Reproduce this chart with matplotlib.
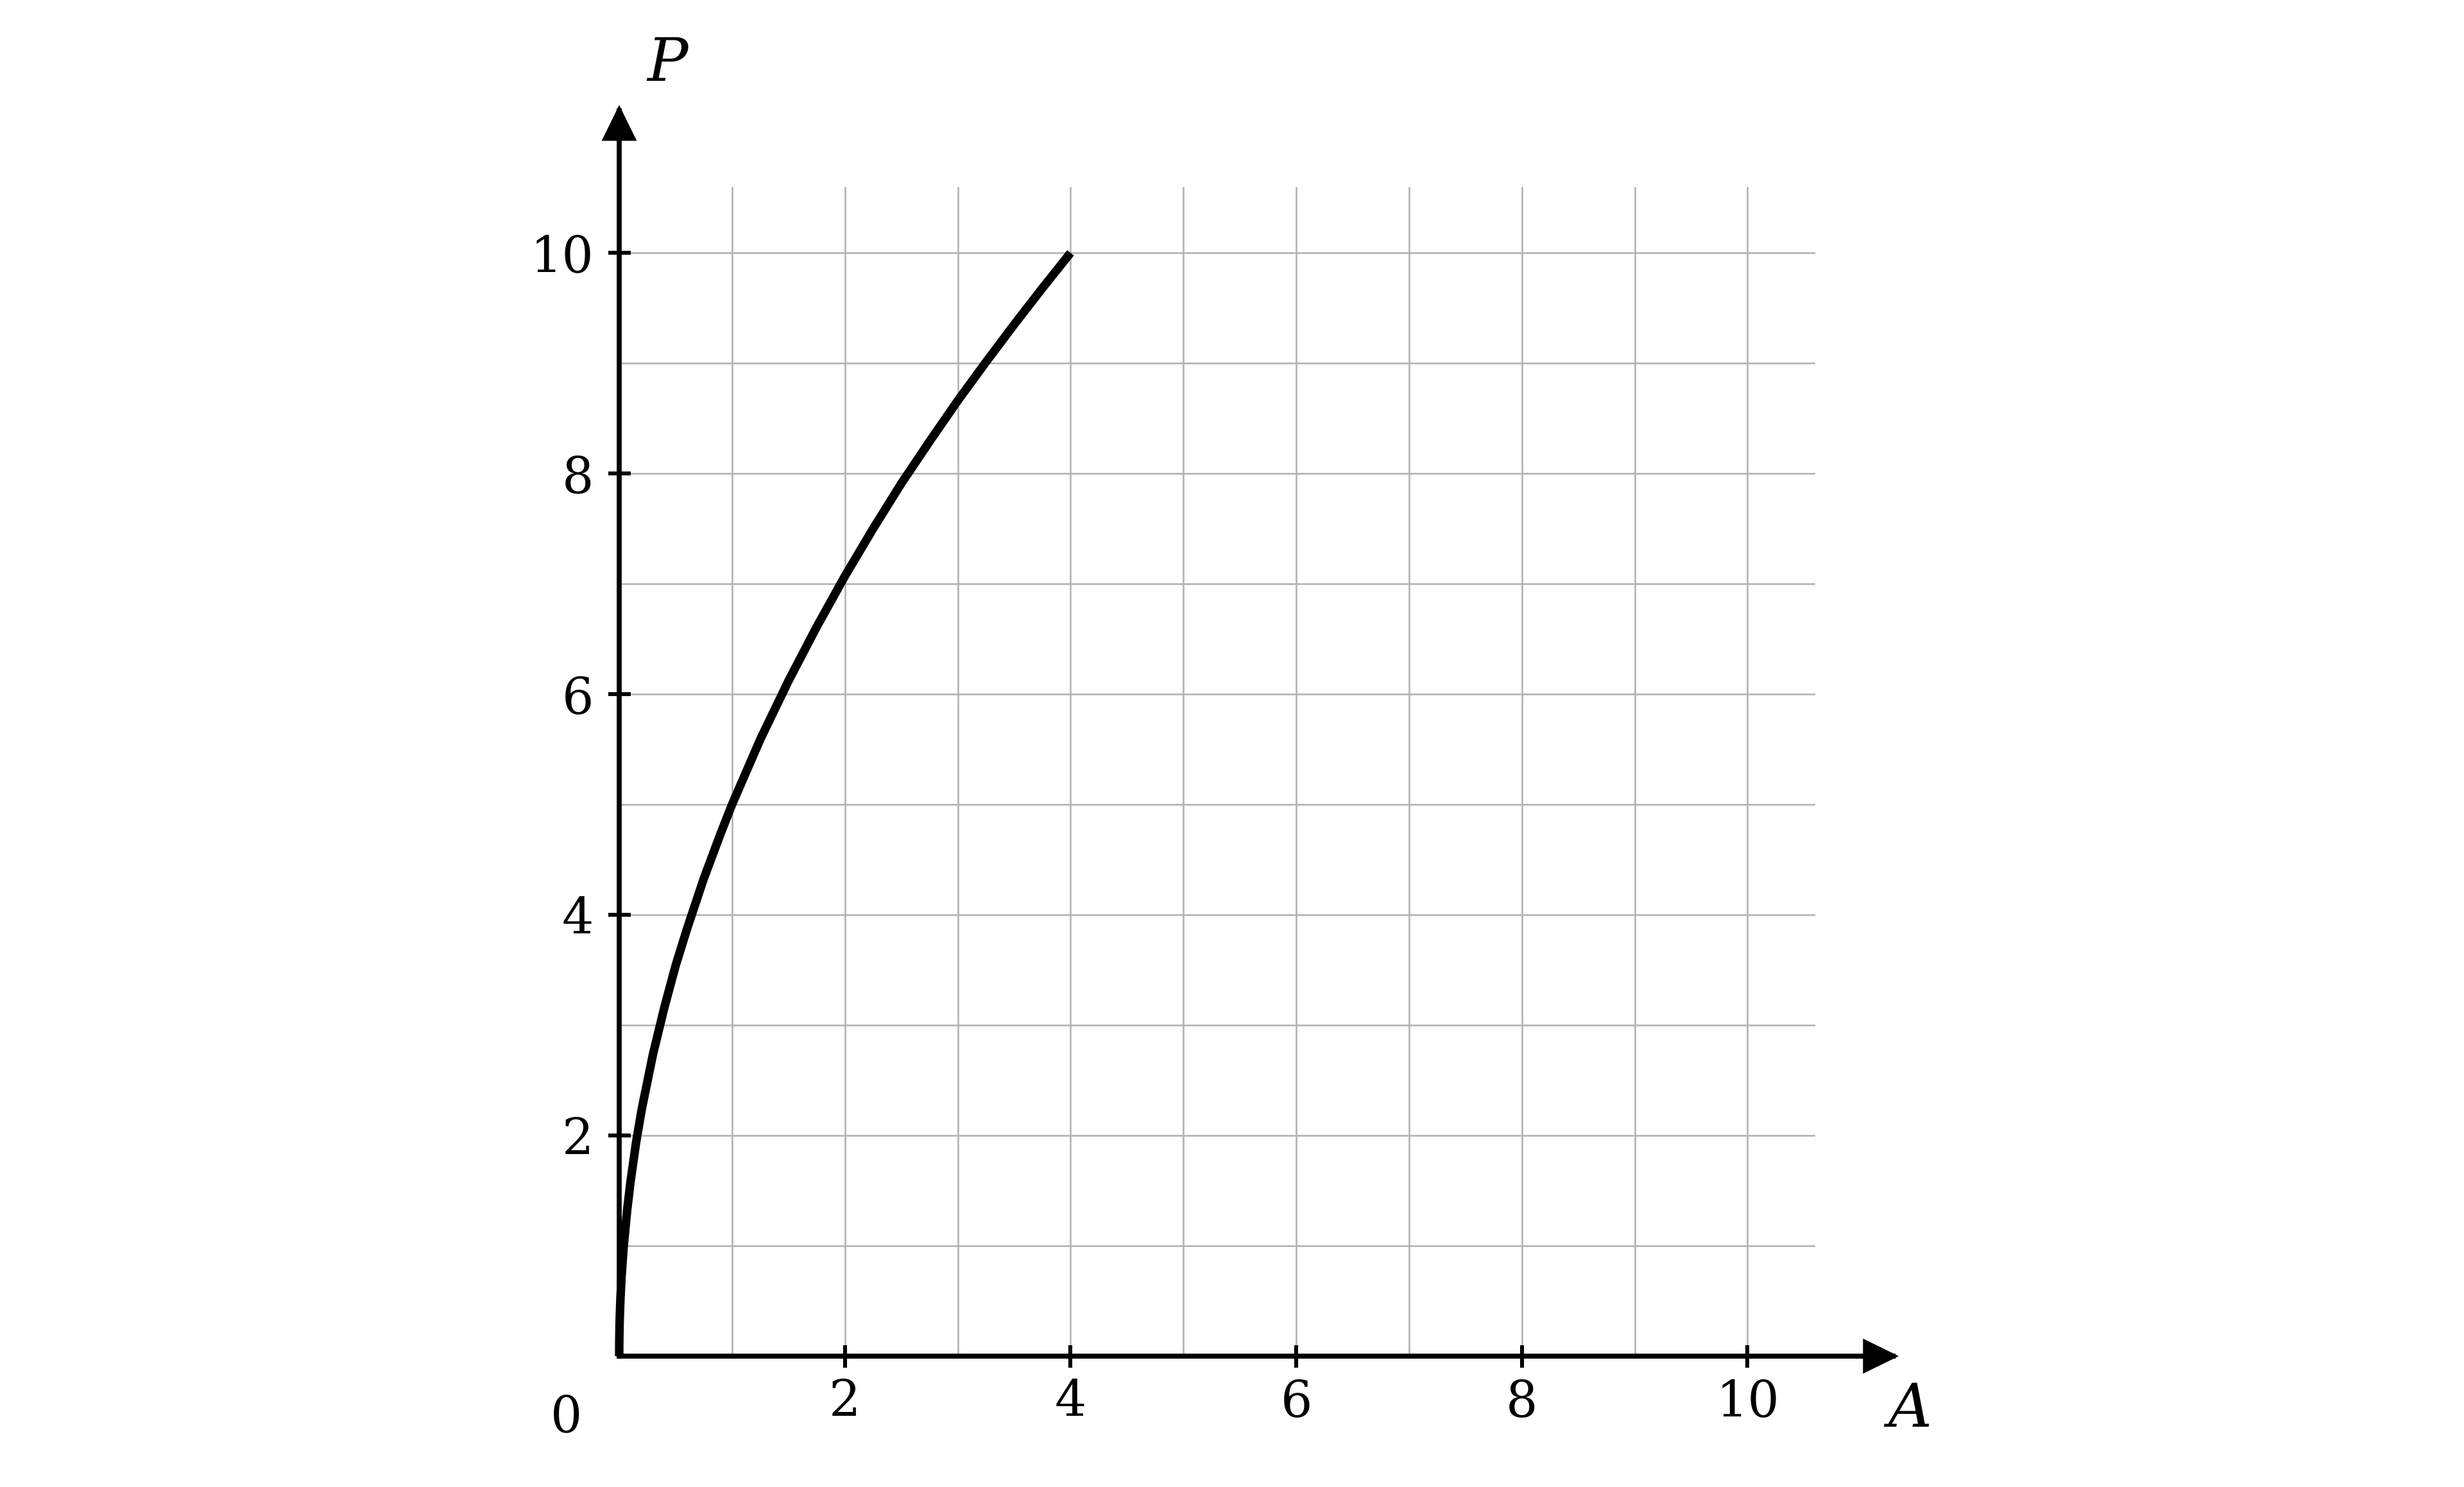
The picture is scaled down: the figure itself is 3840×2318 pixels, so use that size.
import matplotlib
matplotlib.use("Agg")
import matplotlib.pyplot as plt
from matplotlib.patches import FancyArrowPatch, ArrowStyle

# ---- data ----
A_values = [0, 0.001, 0.004, 0.01, 0.02, 0.04, 0.07, 0.1, 0.15, 0.2, 0.3, 0.4, 0.5,
            0.6, 0.75, 0.9, 1.0, 1.25, 1.5, 1.75, 2.0, 2.25, 2.5, 2.75, 3.0, 3.25,
            3.5, 3.75, 4.0]
P_values = [0, 0.16, 0.32, 0.50, 0.71, 1.00, 1.32, 1.58, 1.94, 2.24, 2.74, 3.16, 3.54,
            3.87, 4.33, 4.74, 5.00, 5.59, 6.12, 6.61, 7.07, 7.50, 7.91, 8.29, 8.66, 9.01,
            9.35, 9.68, 10.00]
tick_values = [2, 4, 6, 8, 10]
grid_values = [0, 1, 2, 3, 4, 5, 6, 7, 8, 9, 10]
grid_extent = 10.6
axis_extent = 11.34

plt.rcParams['font.family'] = ['DejaVu Serif']

fig = plt.figure(figsize=(19.2, 11.59), dpi=200)
ax = fig.add_axes([965 / 3840, 204 / 2318, (2829 - 965) / 3840, (2114 - 291) / 2318])
ax.set_xlim(0, grid_extent)
ax.set_ylim(0, grid_extent)
for s in ax.spines.values():
    s.set_visible(False)

# grid
grid_kw = dict(color='#b3b3b3', lw=0.95, zorder=1)
ax.vlines(grid_values, 0, grid_extent, **grid_kw)
ax.hlines(grid_values, 0, grid_extent, **grid_kw)

# axes with arrows
style = ArrowStyle('-|>', head_length=15.5, head_width=7.6)
for start, end in [((0, 0), (axis_extent, 0)), ((0, 0), (0, axis_extent))]:
    arr = FancyArrowPatch(start, end, arrowstyle=style, mutation_scale=1,
                          lw=2.8, color='black', shrinkA=0, shrinkB=0,
                          clip_on=False, zorder=3, joinstyle='miter', capstyle='projecting')
    ax.add_patch(arr)

# curve
ax.plot(A_values, P_values, color='black', lw=4.8, solid_capstyle='butt',
        solid_joinstyle='round', zorder=4, clip_on=False)

# ticks
ax.set_xticks(tick_values)
ax.set_yticks(tick_values)
ax.tick_params(axis='both', direction='inout', length=12.6, width=2.2, color='black',
               labelsize=28, zorder=5)
ax.tick_params(axis='x', pad=6)
ax.tick_params(axis='y', pad=8)

# labels
ax.text(-0.47, -0.56, '0', fontsize=28, ha='center', va='center')
ax.text(0.43, 11.71, 'P', fontsize=34, style='italic', ha='center', va='center')
ax.text(11.44, -0.49, 'A', fontsize=34, style='italic', ha='center', va='center')

fig.savefig('out.png', dpi=200)
